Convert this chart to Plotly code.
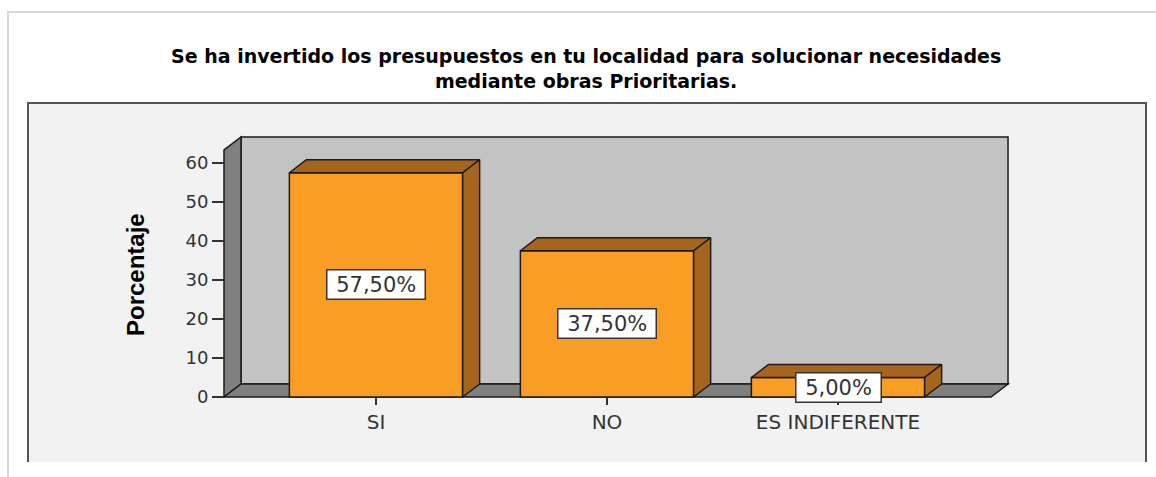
import plotly.graph_objects as go

# ---- data ----
categories = ["SI", "NO", "ES INDIFERENTE"]
percentages = [57.5, 37.5, 5.0]
y_ticks = [0, 10, 20, 30, 40, 50, 60]
title_lines = ["Se ha invertido los presupuestos en tu localidad para solucionar necesidades",
               "mediante obras Prioritarias."]
y_title = "Porcentaje"

# ---- geometry (data units) ----
W, H = 1156, 477
L_PX, R_PX, T_PX, B_PX = 214, 1014, 132, 402
X0, X1 = -0.7013, 2.7619
Y0, Y1 = -1.282, 67.95
XMIN, XMAX, YTOP = -0.658, 2.736, 66.67
DX, DY = 17 / 231, 13 / 3.9
BW = 0.75
hw = BW / 2

def px_to_paper_x(px):
    return (px - L_PX) / (R_PX - L_PX)

def px_to_paper_y(py):
    return (B_PX - py) / (B_PX - T_PX)

ORANGE = "#F99D25"
BROWN = "#A5651C"
EDGE = "#1a1a1a"
TXT = "#333333"

fig = go.Figure()

xs = list(range(len(categories)))
fig.add_trace(go.Bar(x=xs, y=percentages, width=BW,
                     marker=dict(color=ORANGE, line=dict(color=EDGE, width=1.5)),
                     hoverinfo="skip", showlegend=False))

for i, v in zip(xs, percentages):
    # top face
    fig.add_trace(go.Scatter(
        x=[i - hw, i - hw + DX, i + hw + DX, i + hw, i - hw],
        y=[v, v + DY, v + DY, v, v],
        mode="lines", fill="toself", fillcolor=BROWN,
        line=dict(color=EDGE, width=1.5), hoverinfo="skip", showlegend=False))
    # side face
    fig.add_trace(go.Scatter(
        x=[i + hw, i + hw + DX, i + hw + DX, i + hw, i + hw],
        y=[0, DY, v + DY, v, 0],
        mode="lines", fill="toself", fillcolor=BROWN,
        line=dict(color=EDGE, width=1.5), hoverinfo="skip", showlegend=False))

shapes = []
# outer frame (paper)
shapes.append(dict(type="path", xref="paper", yref="paper", layer="below",
                   path=f"M {px_to_paper_x(8)},{px_to_paper_y(477)} L {px_to_paper_x(8)},{px_to_paper_y(12)} L {px_to_paper_x(1156)},{px_to_paper_y(12)}",
                   line=dict(color="#d6d6d6", width=2)))
# inner box
shapes.append(dict(type="rect", xref="paper", yref="paper", layer="below",
                   x0=px_to_paper_x(28), x1=px_to_paper_x(1146),
                   y0=px_to_paper_y(462), y1=px_to_paper_y(103),
                   fillcolor="#F2F2F2", line=dict(width=0)))
shapes.append(dict(type="path", xref="paper", yref="paper", layer="below",
                   path=f"M {px_to_paper_x(28)},{px_to_paper_y(462)} L {px_to_paper_x(28)},{px_to_paper_y(103)} L {px_to_paper_x(1146)},{px_to_paper_y(103)} L {px_to_paper_x(1146)},{px_to_paper_y(462)}",
                   line=dict(color="#555555", width=2)))
# back wall
shapes.append(dict(type="rect", xref="x", yref="y", layer="below",
                   x0=XMIN + DX, x1=XMAX, y0=DY, y1=YTOP,
                   fillcolor="#C3C3C3", line=dict(color=EDGE, width=1.5)))
# left wall
shapes.append(dict(type="path", xref="x", yref="y", layer="below",
                   path=f"M {XMIN},0 L {XMIN+DX},{DY} L {XMIN+DX},{YTOP} L {XMIN},{YTOP-DY} Z",
                   fillcolor="#808080", line=dict(color=EDGE, width=1.5)))
# floor
shapes.append(dict(type="path", xref="x", yref="y", layer="below",
                   path=f"M {XMIN},0 L {XMIN+DX},{DY} L {XMAX},{DY} L {XMAX-DX},0 Z",
                   fillcolor="#808080", line=dict(color=EDGE, width=1.5)))

annotations = []
for i, v in zip(xs, percentages):
    annotations.append(dict(x=i, y=v / 2, xref="x", yref="y",
                            text="&nbsp;" + f"{v:.2f}".replace(".", ",") + "%&nbsp;",
                            showarrow=False, bgcolor="white", bordercolor=TXT,
                            borderwidth=1.5, borderpad=2,
                            font=dict(family="DejaVu Sans", size=21, color=TXT)))
annotations.append(dict(x=px_to_paper_x(585.5), y=px_to_paper_y(69), xref="paper", yref="paper",
                        text="<b>" + "</b><br><b>".join(title_lines) + "</b>",
                        showarrow=False, xanchor="center", yanchor="middle", align="center",
                        font=dict(family="DejaVu Sans", size=19, color="black")))
annotations.append(dict(x=px_to_paper_x(135), y=px_to_paper_y(275), xref="paper", yref="paper",
                        text=f"<b>{y_title}</b>", textangle=-90, showarrow=False,
                        xanchor="center", yanchor="middle",
                        font=dict(family="Liberation Sans", size=24, color="black")))

fig.update_layout(
    width=W, height=H,
    margin=dict(l=L_PX, r=W - R_PX, t=T_PX, b=H - B_PX, pad=0),
    paper_bgcolor="white", plot_bgcolor="rgba(0,0,0,0)",
    shapes=shapes, annotations=annotations, showlegend=False,
    xaxis=dict(range=[X0, X1], tickvals=xs, ticktext=categories,
               showgrid=False, zeroline=False, showline=False,
               ticks="outside", ticklen=7, tickwidth=2, tickcolor=TXT,
               anchor="free", position=px_to_paper_y(397),
               tickfont=dict(family="DejaVu Sans", size=20, color=TXT)),
    yaxis=dict(range=[Y0, Y1], tickvals=y_ticks,
               showgrid=False, zeroline=False, showline=False,
               ticks="outside", ticklen=12, tickwidth=2, tickcolor=TXT,
               anchor="free", position=px_to_paper_x(224),
               tickfont=dict(family="DejaVu Sans", size=18, color=TXT)),
)

fig.write_html("out.html", config={"displayModeBar": False},
               post_script="document.body.style.margin='0';document.body.style.overflow='hidden';")
